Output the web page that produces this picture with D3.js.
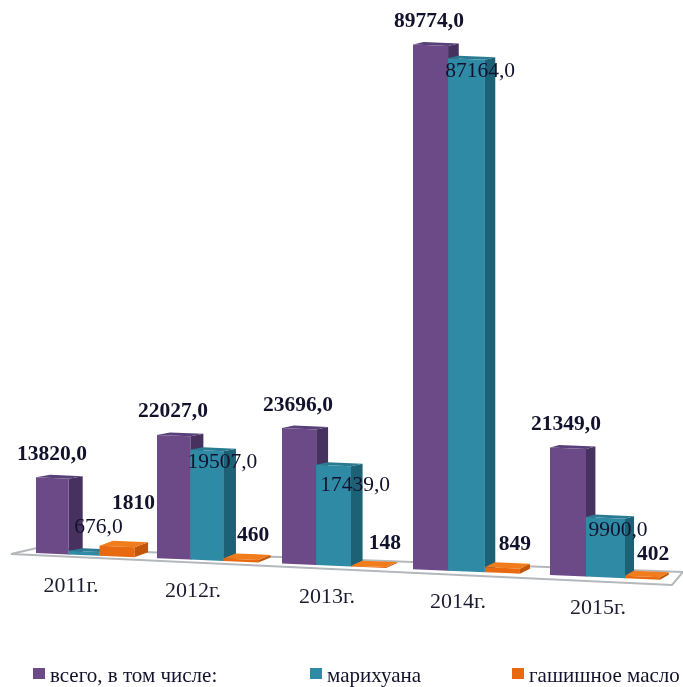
<!DOCTYPE html>
<html>
<head>
<meta charset="utf-8">
<script src="https://cdn.jsdelivr.net/npm/d3@7"></script>
<style>
  html, body { margin: 0; padding: 0; background: #fff; }
  svg { filter: blur(0.4px); }
  text { font-family: "Liberation Serif", serif; fill: #12122c; }
</style>
</head>
<body>
<div id="chart"></div>
<script>
// data
const years = ['2011г.', '2012г.', '2013г.', '2014г.', '2015г.'];
const total = [13820, 22027, 23696, 89774, 21349];
const marijuana = [676, 19507, 17439, 87164, 9900];
const hashOil = [1810, 460, 148, 849, 402];
const seriesNames = ['всего, в том числе:', 'марихуана', 'гашишное масло'];

// label texts as printed in the picture
const totalLabels = ['13820,0', '22027,0', '23696,0', '89774,0', '21349,0'];
const marijuanaLabels = ['676,0', '19507,0', '17439,0', '87164,0', '9900,0'];
const hashOilLabels = ['1810', '460', '148', '849', '402'];

const width = 683;
const height = 687;

const svg = d3
  .select('#chart')
  .append('svg')
  .attr('width', width)
  .attr('height', height);

// group position, spacing grows to the right like the 3d view
const x = d3.scaleLinear().domain([0, 1, 2, 3, 4]).range([36, 157, 282, 413, 550]);
// floor runs downhill to the right
const floorY = d3.scaleLinear().domain([36, 550]).range([553, 575]);
const slope = (575 - 553) / (550 - 36);
// nearer bars are drawn a bit bigger
const persp = d3.scaleLinear().domain([36, 550]).range([0.944, 1.03]);
const depth = d3.scaleLinear().domain([36, 630]).range([14.5, 9]);
const h = d3.scaleLinear().domain([0, 89774]).range([0, 521]);
const totalW = d3.scaleLinear().domain([36, 550]).range([32.5, 36]);
const tealW = d3.scaleLinear().domain([69, 586]).range([31, 39]);

const styles = [
  { front: '#6b4a87', side: '#47315f', top: '#58407a', dy: 2.5 },
  { front: '#2f8aa5', side: '#1d6176', top: '#2a7a92', dy: 2.5 },
  { front: '#e8690f', side: '#c4560c', top: '#f07c1c', dy: 5 },
];

const line = d3.line();

function drawBar(g, x0, w, value, st) {
  const bh = h(value) * persp(x0);
  const y0 = floorY(x0);
  const y1 = y0 + w * slope;
  const dx = depth(x0 + w);
  const front = [[x0, y0], [x0 + w, y1], [x0 + w, y1 - bh], [x0, y0 - bh]];
  const side = [[x0 + w, y1], [x0 + w + dx, y1 - st.dy], [x0 + w + dx, y1 - bh - st.dy], [x0 + w, y1 - bh]];
  const top = [[x0, y0 - bh], [x0 + w, y1 - bh], [x0 + w + dx, y1 - bh - st.dy], [x0 + dx, y0 - bh - st.dy]];
  g.append('path').attr('d', line(side) + 'Z').attr('fill', st.side);
  g.append('path').attr('d', line(top) + 'Z').attr('fill', st.top);
  g.append('path').attr('d', line(front) + 'Z').attr('fill', st.front);
  return { x0, w, dx, top: y0 - bh - st.dy };
}

// floor
svg
  .append('path')
  .attr('d', 'M11,554L37,548L683,572L672,585Z')
  .attr('fill', '#fff')
  .attr('stroke', '#b4b8bc')
  .attr('stroke-width', 2);

const label = (t, cx, y, size, weight) =>
  svg
    .append('text')
    .attr('x', cx)
    .attr('y', y)
    .attr('text-anchor', 'middle')
    .style('font-size', size + 'px')
    .style('font-weight', weight)
    .text(t);

// hand nudges for labels that sit off the usual spot
const marijuanaDx = [-2, 0, 7, 0, 0];
const marijuanaDy = [-36, 0, 8, 0, 0];
const oilDx = [4, 0, 4, 0, -2];
const oilDy = [-20, 0, 0, 0, 1];
const yearDx = [-5, -4, 5, 5, 8];

const bars = svg.append('g');
const placed = [];

years.forEach((year, i) => {
  const g = bars.append('g');
  const gx = x(i);
  const a = drawBar(g, gx, totalW(gx), total[i], styles[0]);
  const bx = gx + a.w;
  const mw = tealW(bx);
  const b = drawBar(g, bx, mw, marijuana[i], styles[1]);
  const c = drawBar(g, bx + mw, 35, hashOil[i], styles[2]);
  placed.push({ i, a, b, c });
});

placed.forEach(({ i, a, b, c }) => {
  label(totalLabels[i], a.x0 + 16, a.top - 15, 21.5, 'bold');
  label(marijuanaLabels[i], b.x0 + 32 + marijuanaDx[i], b.top + 21 + marijuanaDy[i], 21.5, 'normal');
  label(hashOilLabels[i], c.x0 + 30 + oilDx[i], c.top - 12 + oilDy[i], 21.5, 'bold');
  label(years[i], x(i) + 40 + yearDx[i], floorY(x(i) + 40) + 37.5, 22, 'normal').style('fill', '#1c1c30');
});

// legend
const legendX = [33, 310, 512];
seriesNames.forEach((name, i) => {
  svg
    .append('rect')
    .attr('x', legendX[i])
    .attr('y', 668)
    .attr('width', 12)
    .attr('height', 11)
    .attr('fill', styles[i].front);
  svg
    .append('text')
    .attr('x', legendX[i] + 17)
    .attr('y', 682)
    .style('font-size', '21px')
    .text(name);
});
</script>
</body>
</html>
